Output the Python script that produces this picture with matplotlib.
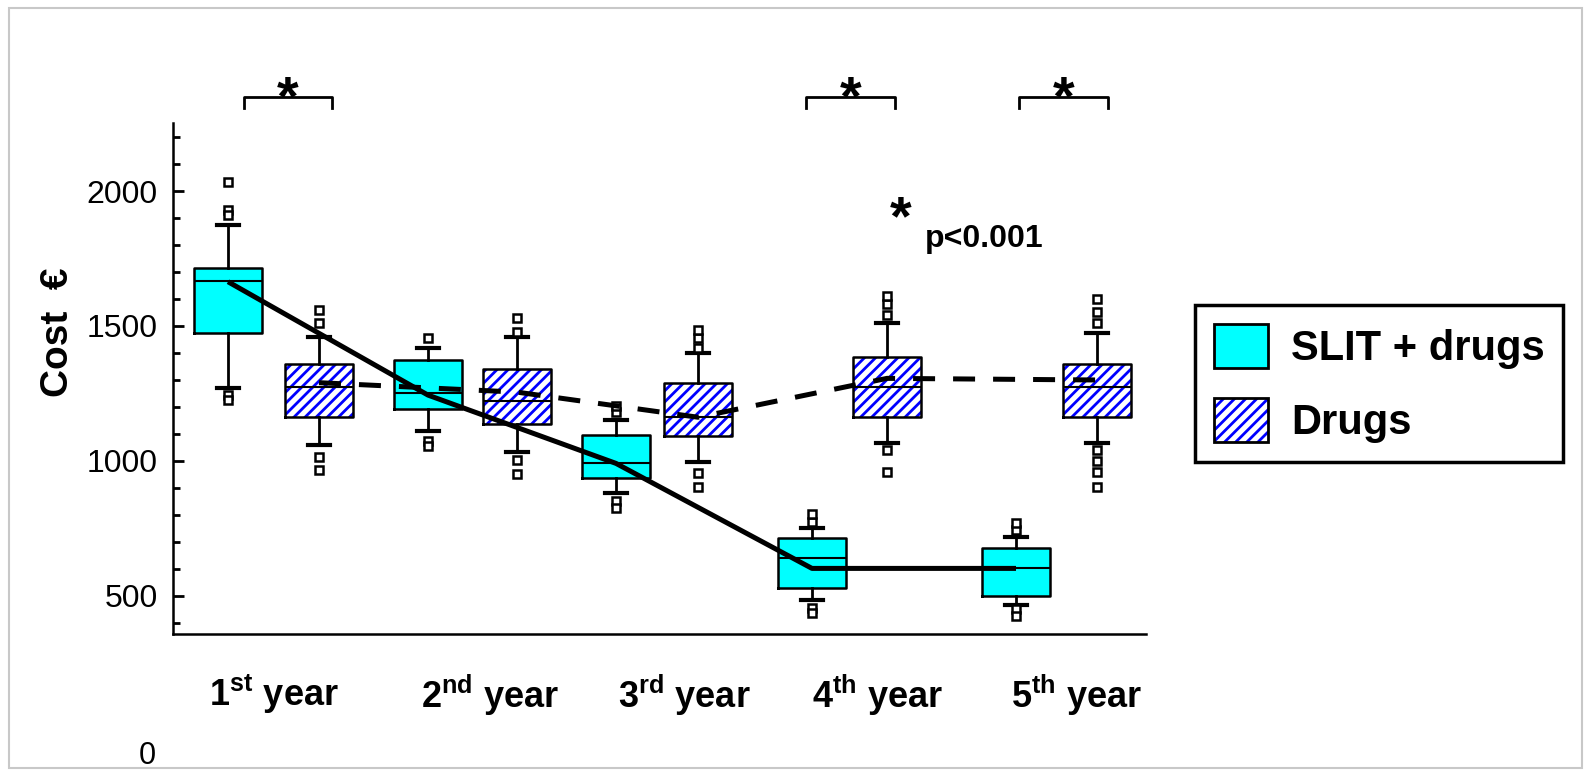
import matplotlib
matplotlib.use('Agg')
import matplotlib.pyplot as plt
from matplotlib import font_manager
from matplotlib.patches import Patch, Rectangle
from matplotlib.ticker import MultipleLocator

# data (cost in euro)
years = [r'$\mathbf{1^{st}\ year}$', r'$\mathbf{2^{nd}\ year}$', r'$\mathbf{3^{rd}\ year}$',
         r'$\mathbf{4^{th}\ year}$', r'$\mathbf{5^{th}\ year}$']

slit_q1 = [1475, 1191, 936, 528, 500]
slit_med = [1667, 1253, 991, 639, 602]
slit_q3 = [1714, 1374, 1096, 713, 679]
slit_lo = [1270, 1110, 880, 485, 467]
slit_hi = [1874, 1420, 1150, 752, 720]
slit_fliers = [[2034, 1930, 1911, 1245, 1226], [1455, 1075, 1055],
               [1180, 1205, 850, 825], [775, 805, 455, 437], [745, 770, 450, 425]]
slit_mean = [1664, 1244, 991, 602, 602]

drug_q1 = [1164, 1136, 1093, 1164, 1162]
drug_med = [1275, 1222, 1162, 1275, 1275]
drug_q3 = [1359, 1341, 1288, 1386, 1358]
drug_lo = [1059, 1034, 995, 1066, 1066]
drug_hi = [1460, 1460, 1399, 1510, 1473]
drug_fliers = [[1511, 1559, 1016, 967], [1477, 1530, 1003, 950],
               [1418, 1455, 1485, 955, 905], [1540, 1580, 1612, 1040, 960],
               [1510, 1550, 1600, 1040, 1000, 960, 905]]
drug_mean = [1290, 1255, 1162, 1306, 1300]

signif_years = [0, 3, 4]

# layout (x in axis units, roughly pixels)
slit_x = [55, 255, 443, 639, 843]
drug_x = [146, 344, 525, 714, 924]
tick_x = [101, 317, 511, 705, 904]
bracket_x = [(71, 159), (633, 722), (846, 935)]
box_w = 68

names = {f.name for f in font_manager.fontManager.ttflist}
narrow = 'Liberation Sans Narrow' in names

plt.rcParams['font.family'] = ['Liberation Sans', 'DejaVu Sans']
plt.rcParams['mathtext.fontset'] = 'custom'
plt.rcParams['mathtext.rm'] = 'Liberation Sans'
plt.rcParams['mathtext.bf'] = 'Liberation Sans:bold'
plt.rcParams['mathtext.it'] = 'Liberation Sans:italic'
plt.rcParams['hatch.linewidth'] = 2.0

W, H = 1590, 776
fig = plt.figure(figsize=(W / 100, H / 100), dpi=100)
ax = fig.add_axes([173 / W, 1 - 634 / H, 973 / W, 511 / H])
ax.set_xlim(0, 973)
ax.set_ylim(359, 2252)


def stats(q1, med, q3, lo, hi, fl):
    return [dict(q1=a, med=b, q3=c, whislo=d, whishi=e, fliers=f, label='')
            for a, b, c, d, e, f in zip(q1, med, q3, lo, hi, fl)]


line_kw = dict(
    widths=box_w, patch_artist=False, manage_ticks=False, capwidths=22,
    boxprops=dict(color='black', lw=1.8),
    medianprops=dict(color='black', lw=1.5),
    whiskerprops=dict(color='black', lw=2),
    capprops=dict(color='black', lw=3),
    flierprops=dict(marker='s', markersize=6, markerfacecolor='white',
                    markeredgecolor='black', markeredgewidth=1.8),
)
ax.bxp(stats(slit_q1, slit_med, slit_q3, slit_lo, slit_hi, slit_fliers),
       positions=slit_x, **line_kw)
ax.bxp(stats(drug_q1, drug_med, drug_q3, drug_lo, drug_hi, drug_fliers),
       positions=drug_x, **line_kw)

for i in range(len(years)):
    ax.add_patch(Rectangle((slit_x[i] - box_w / 2, slit_q1[i]), box_w,
                           slit_q3[i] - slit_q1[i], facecolor='#00ffff',
                           lw=0, zorder=1))
    ax.add_patch(Rectangle((drug_x[i] - box_w / 2, drug_q1[i]), box_w,
                           drug_q3[i] - drug_q1[i], facecolor='white',
                           edgecolor='#0000ff', hatch='///', lw=0, zorder=1))

ax.plot(slit_x, slit_mean, color='black', lw=3.6, zorder=5,
        solid_capstyle='butt')
ax.plot(drug_x, drug_mean, color='black', lw=3.6, zorder=5,
        linestyle=(0, (4.4, 3.6)), dash_capstyle='butt')

# significance brackets above the axes
for (x0, x1), i in zip(bracket_x, signif_years):
    ax.plot([x0, x0, x1, x1], [2307, 2348, 2348, 2307], color='black',
            lw=2, clip_on=False)
    ax.text((x0 + x1) / 2, 2336, '*', ha='center', va='center',
            fontsize=40, fontweight='bold', clip_on=False)

ax.text(728, 1890, '*', ha='center', va='center', fontsize=40,
        fontweight='bold')
ax.text(752, 1791, 'p<0.001', ha='left', va='baseline', fontsize=23,
        fontweight='bold')

for side in ['top', 'right']:
    ax.spines[side].set_visible(False)
for side in ['left', 'bottom']:
    ax.spines[side].set_linewidth(1.8)

ax.set_yticks([500, 1000, 1500, 2000])
ax.yaxis.set_minor_locator(MultipleLocator(100))
ax.tick_params(axis='y', which='major', direction='in', length=8, width=2,
               labelsize=23, pad=11)
ax.tick_params(axis='y', which='minor', direction='in', length=5, width=2)
ax.set_xticks(tick_x, years)
ax.tick_params(axis='x', length=0, labelsize=26, pad=28)

fig.text(58 / W, 1 - 332 / H, 'Cost  €', rotation=90, ha='center',
         va='center', fontsize=28, fontweight='bold')
fig.text(147 / W, 1 - 756 / H, '0', ha='center', va='center', fontsize=22)

if narrow:
    leg_font = dict(family=['Liberation Sans Narrow', 'Liberation Sans'],
                    weight='bold', size=36)
else:
    leg_font = dict(family=['Liberation Sans'], weight='bold', size=30)
fs = leg_font['size'] * 100 / 72

handles = [Patch(facecolor='#00ffff', edgecolor='black', lw=2),
           (Patch(facecolor='white', edgecolor='#0000ff', hatch='///', lw=0),
            Patch(fill=False, edgecolor='black', lw=2))]
leg = ax.legend(handles, ['SLIT + drugs', 'Drugs'], loc='upper left',
                bbox_to_anchor=(1195 / W, 1 - 305 / H),
                bbox_transform=fig.transFigure, prop=leg_font,
                fancybox=False, framealpha=1, edgecolor='black',
                borderaxespad=0, handlelength=54 / fs, handleheight=52 / fs,
                handletextpad=23 / fs, borderpad=0.45, labelspacing=0.7)
leg.get_frame().set_linewidth(2.5)

fig.patches.append(Rectangle((9 / W, 8 / H), 1573 / W, 760 / H,
                             transform=fig.transFigure, fill=False,
                             edgecolor='#c8c8c8', lw=1.5))

fig.savefig('out.png', dpi=100)
